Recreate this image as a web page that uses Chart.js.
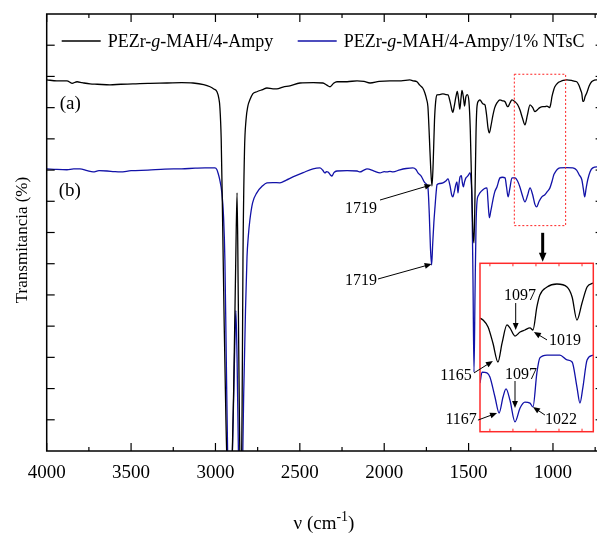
<!DOCTYPE html>
<html>
<head>
<meta charset="utf-8">
<script src="https://cdn.jsdelivr.net/npm/chart.js@4.4.1/dist/chart.umd.min.js"></script>
<style>
  html, body { margin:0; padding:0; background:#fff; overflow:hidden; }
  #wrap { position:relative; width:610px; height:535px; }
  #wrap canvas { position:absolute; left:0; top:0; }
</style>
</head>
<body>
<div id="wrap">
  <canvas id="grafico" width="610" height="535"></canvas>
  <canvas id="detalhe" width="610" height="535"></canvas>
</div>
<script>
const fonte = '"Liberation Serif", "Times New Roman", serif'
const azul = '#1212a8'

const legendas = ['PEZr-g-MAH/4-Ampy', 'PEZr-g-MAH/4-Ampy/1% NTsC']
const xTicks = [4000, 3500, 3000, 2500, 2000, 1500, 1000]

// (a) PEZr-g-MAH/4-Ampy
const numOndaA = [4000,3940,3880,3850,3820,3790,3743,3700,3625,3560,3489,3400,3287,3200,3133,3070,3032,3010,2991,2980,
  2974,2966,2958,2948,2938,2928,2915,2902,2892,2880,2872,2865,2858,2850,2842,2837,2828,2819,2808,2796,
  2778,2755,2720,2695,2659,2636,2600,2559,2499,2420,2363,2340,2321,2300,2280,2220,2161,2120,2084,2030,
  1966,1900,1848,1830,1806,1789,1771,1759,1748,1741,1732,1724,1717,1710,1702,1695,1687,1670,1652,1635,
  1622,1608,1598,1593,1585,1575,1567,1559,1552,1545,1539,1530,1524,1516,1508,1498,1490,1482,1474,1468,
  1462,1456,1450,1440,1433,1415,1403,1392,1385,1377,1368,1356,1345,1332,1314,1300,1284,1272,1266,1255,
  1243,1225,1210,1196,1180,1166,1152,1136,1120,1107,1095,1078,1060,1048,1036,1020,1012,1006,995,989,
  970,959,940,918,890,870,859,845,835,829,823,818,810,800,785,771,755,741,705]
const transA = [11.89,11.86,11.86,11.78,11.83,11.80,11.76,11.75,11.73,11.75,11.76,11.78,11.79,11.80,11.79,11.74,11.67,11.60,11.51,11.30,
  11.03,10.0,7.5,4.0,1.0,-1.0,-1.5,-0.5,2.0,6.0,8.27,5.0,1.0,-1.5,1.5,6.1,9.6,10.6,11.05,11.25,
  11.45,11.51,11.58,11.63,11.60,11.60,11.66,11.70,11.79,11.80,11.79,11.72,11.67,11.78,11.83,11.83,11.86,11.84,11.79,11.84,
  11.86,11.86,11.89,11.86,11.83,11.72,11.62,11.47,11.25,11.03,10.0,9.0,8.49,9.2,10.6,11.2,11.41,11.42,11.44,11.42,
  11.41,11.15,10.9,10.85,11.05,11.35,11.52,11.25,10.95,11.3,11.55,11.3,11.05,11.35,11.42,11.2,10.3,8.5,7.0,6.67,
  8.2,10.2,11.05,11.22,11.25,11.12,11.09,10.7,10.35,10.19,10.4,10.75,11.0,11.15,11.25,11.22,11.19,11.05,11.03,11.15,
  11.25,11.19,11.1,10.93,10.65,10.45,10.75,11.09,11.0,10.87,10.92,11.0,11.03,11.03,11.05,11.0,11.15,11.35,11.58,11.67,
  11.80,11.83,11.87,11.89,11.87,11.84,11.83,11.7,11.55,11.45,11.2,11.2,11.35,11.47,11.7,11.83,11.88,11.89,11.9]

// (b) PEZr-g-MAH/4-Ampy/1% NTsC
const numOndaB = [4000,3940,3880,3840,3803,3760,3725,3690,3642,3600,3565,3500,3400,3300,3200,3120,3062,3003,2992,2985,
  2975,2962,2952,2944,2936,2928,2918,2905,2895,2885,2879,2872,2864,2855,2842,2832,2822,2813,2805,2796,
  2780,2755,2720,2695,2660,2618,2580,2541,2480,2422,2381,2365,2351,2342,2333,2320,2310,2298,2280,2220,
  2161,2144,2120,2102,2060,2025,2000,1984,1966,1948,1907,1870,1830,1812,1800,1780,1759,1741,1733,1726,
  1719,1713,1706,1699,1692,1687,1670,1652,1635,1622,1610,1600,1593,1585,1575,1569,1563,1557,1551,1543,
  1537,1531,1524,1516,1510,1500,1492,1486,1480,1474,1468,1462,1456,1450,1440,1433,1415,1400,1391,1385,
  1377,1368,1356,1345,1332,1314,1300,1284,1275,1266,1256,1243,1225,1210,1196,1182,1166,1150,1136,1120,
  1107,1097,1082,1066,1048,1035,1018,1005,995,989,975,959,920,882,860,845,829,820,812,804,
  794,780,764,740,705]
const transB = [9.04,9.02,9.01,9.04,9.04,8.98,8.94,8.98,8.97,8.95,8.94,8.98,9.00,9.03,9.04,9.06,9.07,9.07,9.02,8.91,
  8.7,8.27,7.5,6.1,3.0,0.0,-1.5,-1.0,1.0,3.5,4.5,3.0,0.0,-1.5,-1.0,2.0,4.5,6.22,6.9,7.4,
  7.95,8.27,8.5,8.59,8.6,8.59,8.68,8.78,8.92,9.04,9.07,9.0,8.91,8.95,8.94,8.85,8.81,8.92,8.97,8.98,
  8.97,8.94,9.0,9.04,8.97,8.91,8.95,8.94,8.96,8.94,9.01,9.05,9.07,9.02,8.91,8.8,8.59,8.43,7.6,6.5,
  5.96,6.6,7.3,7.82,8.3,8.53,8.57,8.59,8.65,8.72,8.5,8.2,8.14,8.3,8.55,8.62,8.27,8.55,8.78,8.82,
  8.6,8.46,8.62,8.75,8.78,8.85,8.91,8.75,8.0,5.5,2.53,5.0,7.2,8.0,8.2,8.27,8.37,8.42,8.43,8.0,
  7.47,7.7,8.04,8.3,8.46,8.75,8.77,8.75,8.45,8.14,8.4,8.75,8.75,8.65,8.46,8.2,7.98,8.2,8.43,8.2,
  7.9,7.82,8.0,8.14,8.21,8.3,8.43,8.65,8.85,8.91,9.02,9.07,9.08,9.07,9.0,8.85,8.69,8.4,8.14,8.4,
  8.69,8.95,9.07,9.10,9.10]

// detalhe (inset) 1243-751 cm-1
const insetOndaA = [1243,1230,1208,1187,1165,1147,1126,1113,1091,1069,1048,1026,1013,996,983,952,909,865,843,822,800,778,752]
const insetTransA = [6.75,6.63,6.22,5.27,4.14,5.27,6.34,6.16,5.68,5.92,6.04,6.16,6.04,7.41,8.12,8.59,8.77,8.59,8.0,6.63,7.64,8.59,8.83]
const insetOndaB = [1243,1234,1213,1200,1178,1160,1143,1130,1113,1091,1069,1048,1026,1013,996,983,952,896,865,843,822,809,796,778,752]
const insetTransB = [2.89,3.54,3.49,3.25,2.06,1.11,2.06,2.54,1.88,0.58,1.41,1.76,1.70,1.47,3.49,4.38,4.55,4.55,4.26,4.14,2.65,1.70,2.65,4.26,4.55]

const pares = (xs, ys) => xs.map((v, i) => ({x: v, y: ys[i]}))

function seta(ctx, x1, y1, x2, y2, lw, head) {
  const ang = Math.atan2(y2 - y1, x2 - x1)
  const c = Math.cos(ang), s = Math.sin(ang)
  ctx.lineWidth = lw
  ctx.beginPath()
  ctx.moveTo(x1, y1)
  ctx.lineTo(x2 - c * head * 0.8, y2 - s * head * 0.8)
  ctx.stroke()
  ctx.beginPath()
  ctx.moveTo(x2, y2)
  ctx.lineTo(x2 - head * c + head * 0.42 * s, y2 - head * s - head * 0.42 * c)
  ctx.lineTo(x2 - head * c - head * 0.42 * s, y2 - head * s + head * 0.42 * c)
  ctx.closePath()
  ctx.fill()
}

function linha(ctx, x1, y1, x2, y2) {
  ctx.beginPath(); ctx.moveTo(x1, y1); ctx.lineTo(x2, y2); ctx.stroke()
}

// texto, posicao do texto e seta (de -> para), em coordenadas dos dados
const anotMain = [
  {texto: '1719', x: 2138, y: 7.76, de: [2025, 8.04], para: [1719, 8.53]},
  {texto: '1719', x: 2138, y: 5.45, de: [2037, 5.51], para: [1719, 5.99]}
]
const anotInset = [
  {texto: '1097', x: 1069, y: 8.06, de: [1088, 7.64], para: [1088, 6.04]},
  {texto: '1019', x: 874, y: 5.38, de: [952, 5.45], para: [1009, 5.92]},
  {texto: '1165', x: 1347, y: 3.31, de: [1269, 3.49], para: [1187, 4.2]},
  {texto: '1097', x: 1065, y: 3.37, de: [1091, 3.01], para: [1091, 1.41]},
  {texto: '1167', x: 1325, y: 0.69, de: [1252, 0.69], para: [1169, 1.11]},
  {texto: '1022', x: 891, y: 0.69, de: [961, 0.99], para: [1013, 1.47]}
]

function desenhaAnot(ctx, lista, x, y) {
  ctx.fillStyle = '#000'; ctx.strokeStyle = '#000'
  ctx.font = '16px ' + fonte
  ctx.textAlign = 'center'; ctx.textBaseline = 'middle'
  lista.forEach(a => {
    ctx.fillText(a.texto, x.getPixelForValue(a.x), y.getPixelForValue(a.y))
    seta(ctx, x.getPixelForValue(a.de[0]), y.getPixelForValue(a.de[1]),
      x.getPixelForValue(a.para[0]), y.getPixelForValue(a.para[1]), 1, 7)
  })
}

const extrasMain = {
  id: 'extrasMain',
  afterDraw(chart) {
    const {ctx, chartArea: a, scales: {x, y}} = chart
    ctx.save()
    ctx.strokeStyle = '#000'
    ctx.lineWidth = 1.5
    ctx.strokeRect(a.left, a.top, a.right - a.left, a.bottom - a.top)
    ctx.lineWidth = 1.2
    for (let v = 4000; v >= 750; v -= 250) {
      const px = x.getPixelForValue(v)
      const len = v % 500 === 0 ? 8 : 4
      linha(ctx, px, a.bottom, px, a.bottom - len)
      linha(ctx, px, a.top, px, a.top + len)
    }
    for (let v = 1; v < 14; v++) {
      const py = y.getPixelForValue(v)
      linha(ctx, a.left, py, a.left + 8, py)
      linha(ctx, a.right, py, a.right - 8, py)
    }

    // legenda
    ctx.textBaseline = 'middle'
    ctx.textAlign = 'left'
    const itens = [{x0: a.left + 15, cor: '#000', txt: legendas[0]}, {x0: a.left + 251, cor: azul, txt: legendas[1]}]
    const ly = a.top + 27
    itens.forEach(it => {
      ctx.strokeStyle = it.cor; ctx.lineWidth = 1.4
      linha(ctx, it.x0, ly, it.x0 + 39, ly)
      let tx = it.x0 + 46
      const partes = it.txt.split('-g-')
      ctx.fillStyle = '#000'
      ctx.font = '18px ' + fonte
      ctx.fillText(partes[0] + '-', tx, ly + 1); tx += ctx.measureText(partes[0] + '-').width
      ctx.font = 'italic 18px ' + fonte
      ctx.fillText('g', tx, ly + 1); tx += ctx.measureText('g').width
      ctx.font = '18px ' + fonte
      ctx.fillText('-' + partes[1], tx, ly + 1)
    })

    // (a) e (b)
    ctx.font = '19px ' + fonte
    ctx.fillText('(a)', a.left + 13, 104)
    ctx.fillText('(b)', a.left + 12, 191)

    // titulos dos eixos
    ctx.save()
    ctx.translate(23, 240)
    ctx.rotate(-Math.PI / 2)
    ctx.textAlign = 'center'
    ctx.font = '17px ' + fonte
    ctx.fillText('Transmitancia (%)', 0, 0)
    ctx.restore()

    ctx.font = '19px ' + fonte
    const t1 = 'ν (cm', t2 = '-1', t3 = ')'
    const w1 = ctx.measureText(t1).width, w3 = ctx.measureText(t3).width
    ctx.font = '14px ' + fonte
    const w2 = ctx.measureText(t2).width
    let tx = 324 - (w1 + w2 + w3) / 2
    ctx.textAlign = 'left'
    ctx.font = '19px ' + fonte
    ctx.fillText(t1, tx, 524); tx += w1
    ctx.font = '14px ' + fonte
    ctx.fillText(t2, tx, 517); tx += w2
    ctx.font = '19px ' + fonte
    ctx.fillText(t3, tx, 524)

    // caixa pontilhada vermelha
    ctx.strokeStyle = '#ff2020'; ctx.lineWidth = 1
    ctx.setLineDash([2, 2])
    const bx1 = x.getPixelForValue(1229), bx2 = x.getPixelForValue(925)
    const by1 = y.getPixelForValue(12.07), by2 = y.getPixelForValue(7.22)
    ctx.strokeRect(bx1, by1, bx2 - bx1, by2 - by1)
    ctx.setLineDash([])

    // seta grossa para baixo
    ctx.strokeStyle = '#000'; ctx.fillStyle = '#000'
    seta(ctx, x.getPixelForValue(1061), y.getPixelForValue(6.99), x.getPixelForValue(1061), y.getPixelForValue(6.06), 3, 9)

    desenhaAnot(ctx, anotMain, x, y)
    ctx.restore()
  }
}

const extrasInset = {
  id: 'extrasInset',
  afterDraw(chart) {
    const {ctx, chartArea: a, scales: {x, y}} = chart
    ctx.save()
    ctx.strokeStyle = '#ff2a2a'; ctx.lineWidth = 1.5
    ctx.strokeRect(a.left, a.top, a.right - a.left, a.bottom - a.top)
    ctx.lineWidth = 1
    for (let v = 1200; v >= 800; v -= 100) {
      const px = x.getPixelForValue(v)
      linha(ctx, px, a.bottom, px, a.bottom - 3)
      linha(ctx, px, a.top, px, a.top + 3)
    }
    desenhaAnot(ctx, anotInset, x, y)
    ctx.restore()
  }
}

const serie = (dados, cor) => ({
  data: dados, borderColor: cor, borderWidth: 1.3, pointRadius: 0,
  cubicInterpolationMode: 'monotone', fill: false
})

document.addEventListener('DOMContentLoaded', () => {
  new Chart(document.getElementById('grafico'), {
    type: 'line',
    data: {datasets: [
      {label: legendas[0], ...serie(pares(numOndaA, transA), '#000')},
      {label: legendas[1], ...serie(pares(numOndaB, transB), azul)}
    ]},
    options: {
      responsive: false, animation: false,
      layout: {padding: {left: 0, right: 6.4, top: 14, bottom: 0}},
      plugins: {legend: {display: false}, tooltip: {enabled: false}},
      scales: {
        x: {
          type: 'linear', reverse: true, min: 700, max: 4000,
          grid: {display: false, drawTicks: false}, border: {display: false},
          ticks: {font: {family: fonte, size: 19}, color: '#000', padding: 11, maxRotation: 0, autoSkip: false,
            callback: v => String(v)},
          afterBuildTicks: s => { s.ticks = xTicks.map(v => ({value: v})) },
          afterFit: s => { s.height = 84 }
        },
        y: {
          min: 0, max: 14,
          grid: {display: false, drawTicks: false}, border: {display: false},
          ticks: {display: false},
          afterFit: s => { s.width = 46.7 }
        }
      }
    },
    plugins: [extrasMain]
  })

  new Chart(document.getElementById('detalhe'), {
    type: 'line',
    data: {datasets: [
      serie(pares(insetOndaA, insetTransA), '#000'),
      serie(pares(insetOndaB, insetTransB), azul)
    ]},
    options: {
      responsive: false, animation: false,
      layout: {padding: {left: 480, right: 16.7, top: 263.3, bottom: 103.3}},
      plugins: {legend: {display: false}, tooltip: {enabled: false}},
      scales: {
        x: {type: 'linear', reverse: true, min: 751, max: 1243, display: false},
        y: {min: 0, max: 10, display: false}
      }
    },
    plugins: [extrasInset]
  })
})
</script>
</body>
</html>
